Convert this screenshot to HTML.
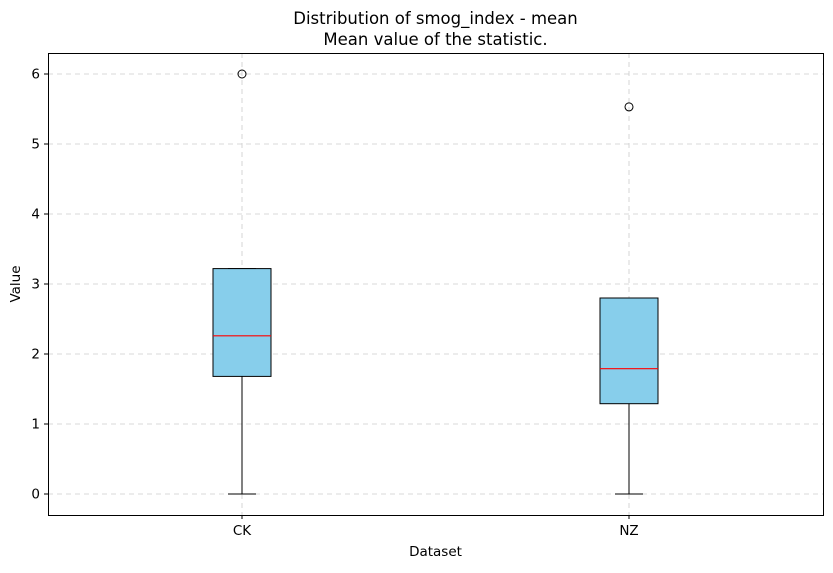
<!DOCTYPE html>
<html><head><meta charset="utf-8"><style>
body{margin:0;background:#fff;font-family:"Liberation Sans","DejaVu Sans",sans-serif}
svg text{font-family:"DejaVu Sans","Liberation Sans",sans-serif;fill:#000}
</style></head><body>
<svg id="chart" width="833" height="568" xmlns="http://www.w3.org/2000/svg">
<text x="435.5" y="24" font-size="16.5" text-anchor="middle">Distribution of smog_index - mean</text>
<text x="435.5" y="45" font-size="16.5" text-anchor="middle">Mean value of the statistic.</text>
<g id="grid"></g><g id="marks"></g><g id="axes"></g>
<rect x="48.5" y="53.5" width="775" height="462" fill="none" stroke="#000" stroke-width="1"/>
<text x="435.5" y="556" font-size="13.5" text-anchor="middle">Dataset</text>
<text x="20" y="284" font-size="13.5" text-anchor="middle" transform="rotate(-90 20 284)">Value</text>
</svg>
<script>
const categories=["CK","NZ"];
const q1=[1.68,1.29];
const medians=[2.26,1.79];
const q3=[3.22,2.80];
const whiskerLow=[0,0];
const whiskerHigh=[3.22,2.80];
const outliers=[[6.0],[5.53]];
const yTicks=[0,1,2,3,4,5,6];
const NS="http://www.w3.org/2000/svg";
const y=v=>494-v*70;
const x=i=>[242,629][i];
function mk(tag,attrs,parent){const e=document.createElementNS(NS,tag);for(const k in attrs)e.setAttribute(k,attrs[k]);parent.appendChild(e);return e;}
const grid=document.getElementById('grid'),marks=document.getElementById('marks'),axes=document.getElementById('axes');
yTicks.forEach(t=>{
 const g=mk('line',{x1:48,x2:823,y1:y(t),y2:y(t),stroke:'#ccc','stroke-dasharray':'5,4','stroke-width':0.8},grid);
 
 const tk=mk('line',{x1:44,x2:48,y1:y(t),y2:y(t),stroke:'#000'},axes);
 
 const tx=mk('text',{x:40,y:y(t)+4.5,'font-size':13.5,'text-anchor':'end'},axes);tx.textContent=t;
 
});
categories.forEach((c,i)=>{
 const cx=x(i);
 const g=mk('line',{x1:cx,x2:cx,y1:53,y2:515,stroke:'#ccc','stroke-dasharray':'5,4','stroke-width':0.8},grid);
 
 const tk=mk('line',{x1:cx,x2:cx,y1:515,y2:519,stroke:'#000'},axes);
 
 const tx=mk('text',{x:cx,y:535,'font-size':13.5,'text-anchor':'middle'},axes);tx.textContent=c;
 
 const w1=mk('line',{x1:cx,x2:cx,y1:y(q1[i]),y2:y(whiskerLow[i]),stroke:'#000'},marks);
 
 const w2=mk('line',{x1:cx,x2:cx,y1:y(q3[i]),y2:y(whiskerHigh[i]),stroke:'#000'},marks);
 
 const c1=mk('line',{x1:cx-14,x2:cx+14,y1:y(whiskerLow[i]),y2:y(whiskerLow[i]),stroke:'#000'},marks);
 
 const c2=mk('line',{x1:cx-14,x2:cx+14,y1:y(whiskerHigh[i]),y2:y(whiskerHigh[i]),stroke:'#000'},marks);
 
 const b=mk('rect',{x:cx-29,y:y(q3[i]),width:58,height:y(q1[i])-y(q3[i]),fill:'#87ceeb',stroke:'#000'},marks);
 
 const m=mk('line',{x1:cx-29,x2:cx+29,y1:y(medians[i]),y2:y(medians[i]),stroke:'#f00','stroke-width':1.2},marks);
 
 outliers[i].forEach(o=>{
  const p=mk('circle',{cx:cx,cy:y(o),r:4,fill:'none',stroke:'#000'},marks);
  
 });
});
</script>
</body></html>
